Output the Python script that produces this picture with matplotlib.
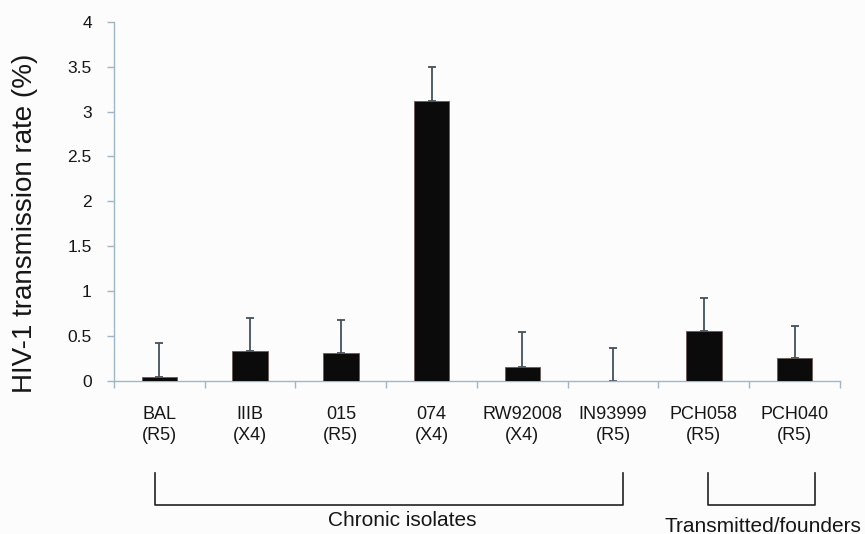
import matplotlib
matplotlib.use("Agg")
import matplotlib.pyplot as plt
import matplotlib.transforms as mtransforms
from matplotlib.ticker import FuncFormatter, MultipleLocator

plt.rcParams["font.family"] = ["Liberation Sans", "DejaVu Sans"]

# Daten
isolates = ["BAL", "IIIB", "015", "074", "RW92008", "IN93999", "PCH058", "PCH040"]
coreceptor = ["R5", "X4", "R5", "X4", "X4", "R5", "R5", "R5"]
rate = [0.04, 0.335, 0.31, 3.12, 0.16, 0.0, 0.555, 0.255]
rate_err = [0.38, 0.37, 0.37, 0.375, 0.38, 0.365, 0.365, 0.36]
groups = ["Chronic isolates", "Transmitted/founders"]
group_first = [0, 6]
group_last = [5, 7]

axis_col = "#9fb6c6"
err_col = "#44525c"
text_col = "#161616"

fig = plt.figure(figsize=(8.65, 5.34), dpi=100, facecolor="#fcfcfd")
ax = fig.add_axes([0.1318, 0.2865, 0.8392, 0.6729])
ax.set_facecolor("#fcfcfd")

x = list(range(len(isolates)))
ax.bar(x, rate, width=0.39, color="#0b0b0b", edgecolor="#6b5a55", linewidth=0.6, zorder=3)
ax.errorbar(x, rate, yerr=[[0] * len(rate), rate_err], fmt="none", ecolor=err_col,
            elinewidth=1.3, capsize=3, capthick=1.3, zorder=2)

ax.set_xlim(-0.5, len(isolates) - 0.5)
ax.set_ylim(0, 4)
ax.yaxis.set_major_locator(MultipleLocator(0.5))
ax.yaxis.set_major_formatter(FuncFormatter(lambda v, p: "{:g}".format(v)))

for side in ["top", "right"]:
	ax.spines[side].set_visible(False)
for side in ["left", "bottom"]:
	ax.spines[side].set_color(axis_col)
	ax.spines[side].set_linewidth(1.0)

ax.tick_params(axis="y", colors=axis_col, length=5, width=1.0, labelsize=12.5,
               labelcolor=text_col, pad=11)

# Kategoriebeschriftungen zentriert, Striche an den Grenzen
ax.set_xticks(x)
ax.set_xticklabels(["{}\n({})".format(n, c) for n, c in zip(isolates, coreceptor)],
                   fontsize=13, color=text_col, linespacing=1.3)
ax.tick_params(axis="x", length=0, pad=18)
ax.set_xticks([i - 0.5 for i in range(len(isolates) + 1)], minor=True)
ax.tick_params(axis="x", which="minor", length=5, width=1.0, colors=axis_col)

ax.set_ylabel("HIV-1 transmission rate (%)", fontsize=20, color=text_col)
ax.yaxis.set_label_coords(-0.105, 0.44)

# Klammern fuer die Gruppen
trans = mtransforms.blended_transform_factory(ax.transData, ax.transAxes)
pads = [(-0.05, 0.11), (0.05, 0.22)]
text_shift = [0.15, 0.02]
text_y = [-0.387, -0.404]
for name, first, last, (pl, pr), dx, ty in zip(groups, group_first, group_last, pads,
                                               text_shift, text_y):
	x0 = first + pl
	x1 = last + pr
	ax.plot([x0, x0, x1, x1], [-0.256, -0.345, -0.345, -0.256], color="#222222",
	        linewidth=1.2, transform=trans, clip_on=False)
	ax.text((x0 + x1) / 2 + dx, ty, name, transform=trans, ha="center", va="center",
	        fontsize=15, color=text_col)

fig.savefig("out.png", dpi=100, facecolor=fig.get_facecolor())
